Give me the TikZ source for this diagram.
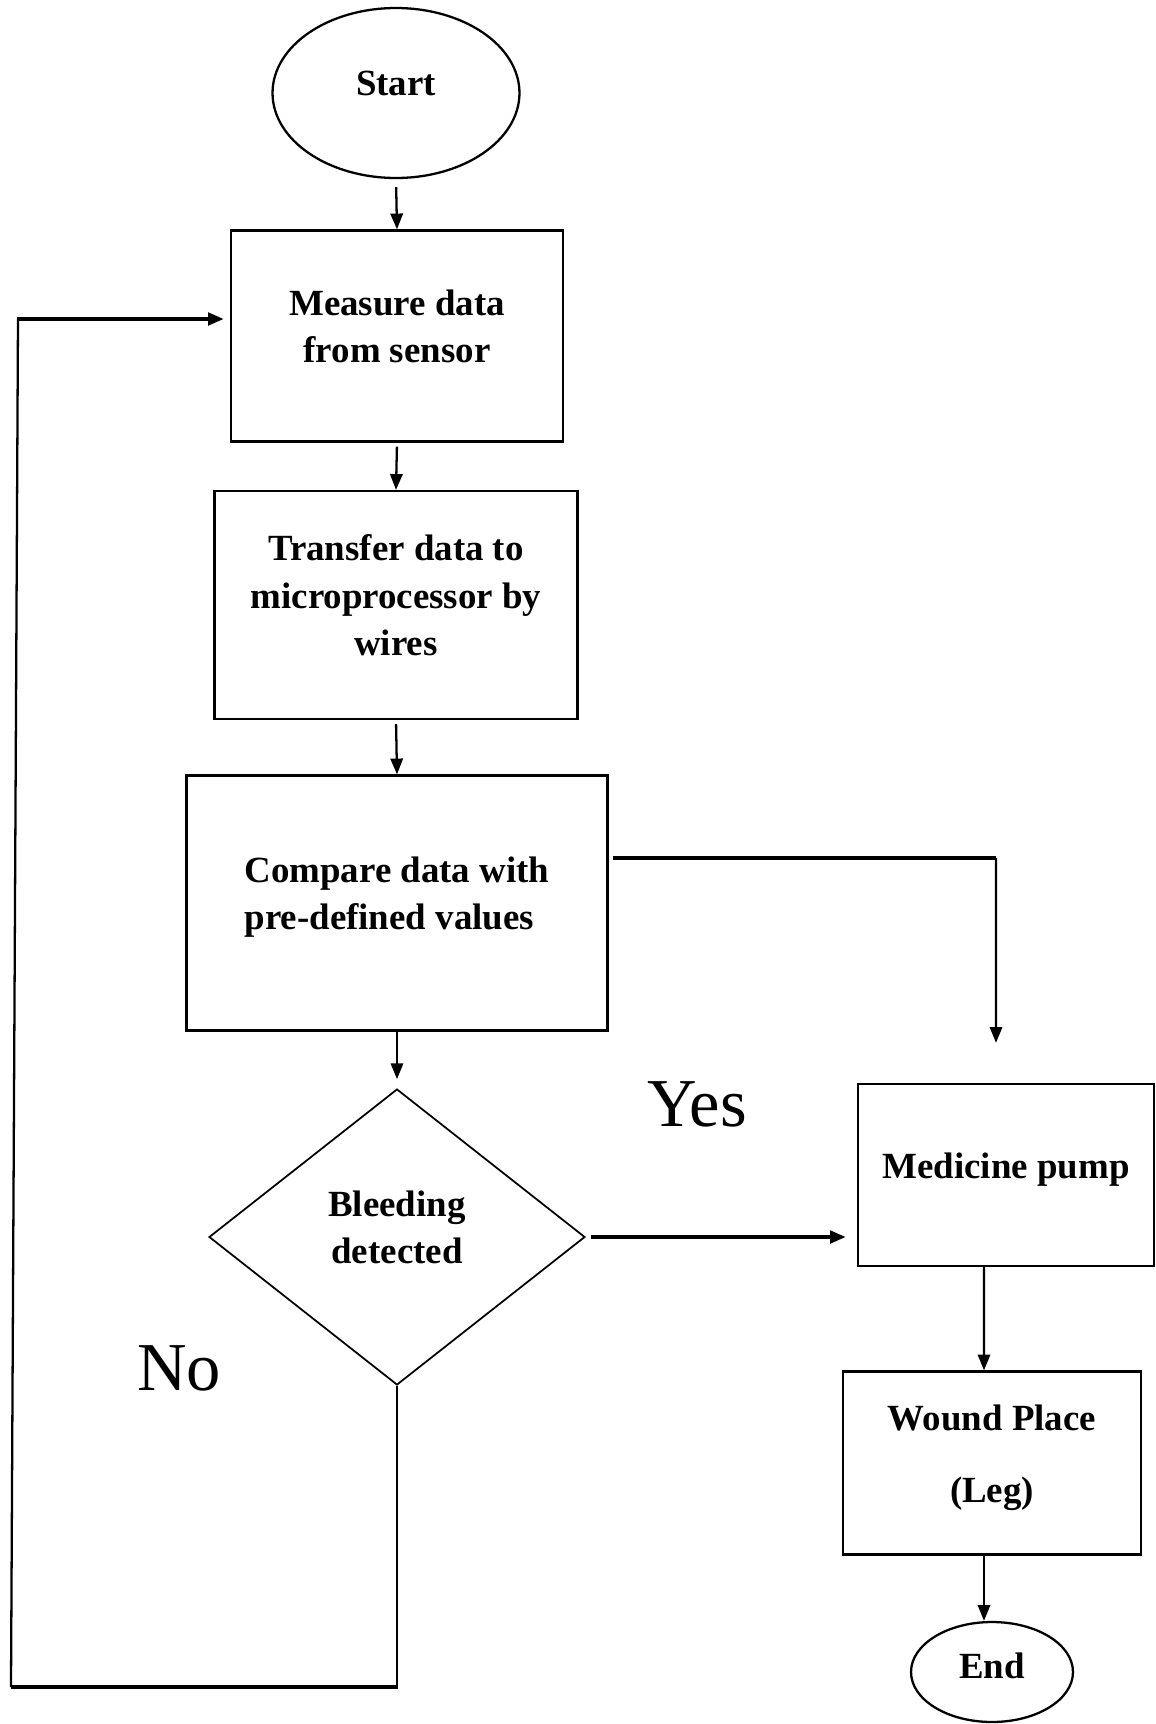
\documentclass[tikz,border=0pt]{standalone}
\usepackage{fontspec}
\setmainfont{Liberation Serif}
\usetikzlibrary{shapes.geometric,arrows.meta}
\tikzset{
  box/.style={draw,line width=1.3pt,inner sep=0pt,align=center,text depth=11pt,
    font=\fontsize{21}{27}\selectfont\bfseries},
  decision/.style={box,diamond,line width=1pt},
  terminal/.style={box,ellipse},
  flow/.style={-{Triangle[length=9pt,width=7pt]},line width=1.3pt},
  heavy/.style={line width=2.2pt},
  answer/.style={font=\fontsize{39}{45}\selectfont,inner sep=0pt}
}
\begin{document}
\begin{tikzpicture}[x=0.02cm,y=-0.02cm]
  \useasboundingbox (0,0) rectangle (1156,1724);
  %main column
  \node[terminal,minimum width=4.94cm,minimum height=3.4cm] (start) at (396,93) {Start};
  \node[box,minimum width=6.64cm,minimum height=4.22cm] (measure) at (397,336) {Measure data\\from sensor};
  \node[box,minimum width=7.26cm,minimum height=4.56cm] (transfer) at (396,605) {Transfer data to\\microprocessor by\\wires};
  \node[box,align=left,minimum width=8.42cm,minimum height=5.1cm] (compare) at (397,903) {Compare data with\\pre-defined values};
  \node[decision,minimum width=7.52cm,minimum height=5.92cm] (bleed) at (397,1237) {Bleeding\\detected};
  %right column
  \node[box,minimum width=5.92cm,minimum height=3.64cm] (pump) at (1006,1175) {Medicine pump};
  \node[box,minimum width=5.96cm,minimum height=3.66cm] (wound) at (992,1463) {Wound Place\\[14pt](Leg)};
  \node[terminal,text depth=7pt,minimum width=3.24cm,minimum height=2cm] (finish) at (992,1672) {End};
  %labels
  \node[answer] (yes) at (697,1104) {Yes};
  \node[answer] (no) at (179,1368) {No};
  %arrows down
  \draw[flow,shorten <=0.16cm] (start.south) -- (measure.north);
  \draw[flow,shorten <=0.08cm] (measure.south) -- (transfer.north);
  \draw[flow,shorten <=0.08cm] (transfer.south) -- (compare.north);
  \draw[flow,shorten >=0.18cm] (compare.south) -- (bleed.north);
  %compare to pump
  \coordinate (turn) at (996,858);
  \draw[heavy] ([xshift=0.08cm]compare.east |- turn) -- (turn);
  \draw[flow] (turn) -- ([xshift=-0.2cm,yshift=0.8cm]pump.north);
  %yes branch
  \draw[flow,heavy,shorten <=0.1cm,shorten >=0.22cm] (bleed.east) -- (bleed.east -| pump.west);
  \draw[flow] ([xshift=-0.44cm]pump.south) -- ([xshift=-0.16cm]wound.north);
  \draw[flow] ([xshift=-0.16cm]wound.south) -- ([xshift=-0.16cm]finish.north);
  %no branch back to measure
  \coordinate (loopbot) at (11,1687);
  \coordinate (looptop) at (18,319);
  \draw[line width=1.3pt] (bleed.south) -- (bleed.south |- loopbot);
  \draw[heavy] ([xshift=0.02cm]bleed.south |- loopbot) -- (loopbot);
  \draw[line width=1.3pt] (loopbot) -- (looptop);
  \draw[flow,heavy] ([xshift=-0.02cm]looptop) -- ([xshift=-0.12cm]measure.west |- looptop);
\end{tikzpicture}
\end{document}
